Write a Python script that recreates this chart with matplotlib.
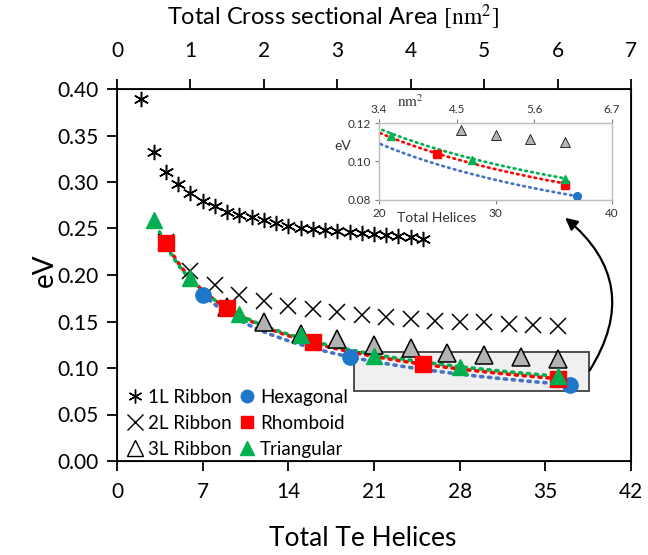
import numpy as np
import matplotlib
matplotlib.use("Agg")
import matplotlib.pyplot as plt
from matplotlib.lines import Line2D
from matplotlib.patches import Rectangle

plt.rcParams['font.family'] = ['Lato', 'DejaVu Sans']
plt.rcParams['mathtext.fontset'] = 'stix'

# ---------------- data ----------------
ribbon1_x = list(range(2, 26))
ribbon1_y = [0.389, 0.332, 0.311, 0.298, 0.288, 0.280, 0.274, 0.268, 0.265, 0.262,
             0.259, 0.256, 0.253, 0.251, 0.249, 0.248, 0.247, 0.246, 0.245, 0.244,
             0.243, 0.242, 0.241, 0.239]

ribbon2_x = list(range(4, 38, 2))
ribbon2_y = [0.235, 0.204, 0.189, 0.179, 0.172, 0.167, 0.163, 0.160, 0.157, 0.155,
             0.153, 0.151, 0.150, 0.149, 0.147, 0.146, 0.145]

ribbon3_x = [9, 12, 15, 18, 21, 24, 27, 30, 33, 36]
ribbon3_y = [0.166, 0.149, 0.137, 0.131, 0.125, 0.122, 0.1165, 0.114, 0.1115, 0.110]

hex_x = [7, 19, 37]
hex_y = [0.179, 0.112, 0.082]

rhomb_x = [4, 9, 16, 25, 36]
rhomb_y = [0.234, 0.165, 0.128, 0.104, 0.088]

tri_x = [3, 6, 10, 15, 21, 28, 36]
tri_y = [0.259, 0.197, 0.158, 0.135, 0.113, 0.101, 0.091]

bottom_ticks = [0, 7, 14, 21, 28, 35, 42]
left_ticks = [0.00, 0.05, 0.10, 0.15, 0.20, 0.25, 0.30, 0.35, 0.40]
top_ticks = [0, 1, 2, 3, 4, 5, 6, 7]
inset_x_ticks = [20, 30, 40]
inset_y_ticks = [0.08, 0.10, 0.12]
inset_top_ticks = [3.4, 4.5, 5.6, 6.7]

# colours
c_hex = '#1f77c9'
c_hex_line = '#4472c4'
c_rho = '#ff0000'
c_tri = '#00b050'


def power_fit(x, y):
    x = np.asarray(x, float)
    y = np.asarray(y, float)
    b, a = np.polyfit(np.log(x), np.log(y), 1)
    xs = np.linspace(x.min(), x.max(), 200)
    return xs, np.exp(a) * xs ** b


def window(x, y, lim):
    x = np.asarray(x, float)
    y = np.asarray(y, float)
    if lim is None:
        return x, y
    (x0, x1), (y0, y1) = lim
    m = (x >= x0) & (x <= x1) & (y >= y0 - 0.002) & (y <= y1)
    return x[m], y[m]


W, H = 648, 555
fig = plt.figure(figsize=(W / 100, H / 100), dpi=100)
L, R, T, B = 117, 631, 89, 461
ax = fig.add_axes([L / W, (H - B) / H, (R - L) / W, (B - T) / H])

fits = [(hex_x, hex_y, c_hex_line), (rhomb_x, rhomb_y, c_rho), (tri_x, tri_y, c_tri)]


def draw_all(a, scale=1.0, big=True, lim=None):
    ms = scale
    for fx, fy, col in fits:
        xs, ys = power_fit(fx, fy)
        a.plot(xs, ys, ls=(0, (0.6, 1.6)), color=col, lw=2.6 * (0.75 if not big else 1),
               dash_capstyle='round', zorder=3)
    if big:
        a.plot(ribbon1_x, ribbon1_y, ls='none', marker=(6, 2, 0), ms=11, mec='black',
               mew=1.1, zorder=4)
        a.plot(ribbon2_x, ribbon2_y, ls='none', marker='x', ms=12, mec='black',
               mew=1.1, zorder=4)
    a.plot(*window(ribbon3_x, ribbon3_y, lim), ls='none', marker='^', ms=13 * ms,
           mfc='#b3b3b3', mec='black', mew=1.1 * ms, zorder=5)
    a.plot(*window(hex_x, hex_y, lim), ls='none', marker='o', ms=11 * ms, mfc=c_hex,
           mec=c_hex, zorder=6)
    a.plot(*window(rhomb_x, rhomb_y, lim), ls='none', marker='s', ms=11 * ms, mfc=c_rho,
           mec=c_rho, zorder=6)
    a.plot(*window(tri_x, tri_y, lim), ls='none', marker='^', ms=12 * ms, mfc=c_tri,
           mec=c_tri, zorder=7)


draw_all(ax)

ax.set_xlim(0, 42)
ax.set_ylim(0, 0.40)
ax.set_xticks(bottom_ticks)
ax.set_yticks(left_ticks)
ax.set_yticklabels([f"{v:.2f}" for v in left_ticks])
ax.tick_params(axis='both', direction='out', length=7, width=1.3, labelsize=15, pad=6)
ax.tick_params(axis='x', pad=8)
for s in ax.spines.values():
    s.set_linewidth(1.3)
ax.set_xlabel('Total Te Helices', fontsize=19)
ax.xaxis.set_label_coords((363 - L) / (R - L), -(538 - B) / (B - T), transform=ax.transAxes)
ax.xaxis.label.set_va('center')
ax.set_ylabel('eV', fontsize=20)
ax.yaxis.set_label_coords((45 - L) / (R - L), (B - 270) / (B - T), transform=ax.transAxes)
ax.yaxis.label.set_va('center')

ax2 = ax.twiny()
ax2.set_xlim(0, 7)
ax2.set_xticks(top_ticks)
ax2.tick_params(axis='x', direction='out', length=7, width=1.3, labelsize=15, pad=13)
fig.text(333 / W, 1 - 17 / H, r'Total Cross sectional Area $[\mathrm{nm}^2]$',
         fontsize=17, ha='center', va='center')

# highlight box
ax.add_patch(Rectangle((19.4, 0.0755), 19.2, 0.042, facecolor='#f0f0f0',
                       edgecolor='#404040', lw=1.3, zorder=1))

# legend
handles = [
    Line2D([], [], ls='none', marker=(6, 2, 0), ms=10, mec='black', mew=1.0),
    Line2D([], [], ls='none', marker='x', ms=11, mec='black', mew=1.0),
    Line2D([], [], ls='none', marker='^', ms=11, mfc='white', mec='black', mew=1.0),
    Line2D([], [], ls='none', marker='o', ms=9, mfc=c_hex, mec=c_hex),
    Line2D([], [], ls='none', marker='s', ms=9, mfc=c_rho, mec=c_rho),
    Line2D([], [], ls='none', marker='^', ms=10, mfc=c_tri, mec=c_tri),
]
labels = ['1L Ribbon', '2L Ribbon', '3L Ribbon', 'Hexagonal', 'Rhomboid', 'Triangular']
ax.legend(handles, labels, ncol=2, loc='lower left', frameon=False, fontsize=13.5,
          handletextpad=0.2, columnspacing=0.3, handlelength=1.0, labelspacing=0.47,
          borderaxespad=0.0, bbox_to_anchor=(0.002, -0.011))

# inset
IL, IR, IT, IB = 379, 612, 123, 200
axi = fig.add_axes([IL / W, (H - IB) / H, (IR - IL) / W, (IB - IT) / H])
ilim = ((20, 40), (0.08, 0.12))
draw_all(axi, scale=0.5, big=False, lim=ilim)
axi.set_xlim(*ilim[0])
axi.set_ylim(*ilim[1])
axi.set_xticks(inset_x_ticks)
axi.set_yticks(inset_y_ticks)
axi.set_yticklabels([f"{v:.2f}" for v in inset_y_ticks])
axi.tick_params(axis='both', direction='out', length=3, width=0.8, colors='#808080',
                labelcolor='#333333', labelsize=8.5, pad=3)
for s in axi.spines.values():
    s.set_color('#bfbfbf')
    s.set_linewidth(1.0)
axi.set_facecolor('white')
axi3 = axi.twiny()
axi3.set_xlim(3.4, 6.7)
axi3.set_xticks(inset_top_ticks)
axi3.set_xticklabels([f"{v:.1f}" for v in inset_top_ticks])
axi3.tick_params(axis='x', direction='out', length=3, width=0.8, colors='#808080',
                 labelcolor='#333333', labelsize=8.5, pad=3)
for s in axi3.spines.values():
    s.set_color('#bfbfbf')
fig.text(410 / W, 1 - 102 / H, r'$\mathrm{nm}^2$', fontsize=11, ha='center', va='center',
         color='#333333')
fig.text(437 / W, 1 - 218 / H, 'Total Helices', fontsize=10, ha='center', va='center',
         color='#333333')
fig.text(343 / W, 1 - 146 / H, 'eV', fontsize=10, ha='center', va='center',
         color='#333333')

# curved arrow
ax.annotate('', xy=(563, H - 216), xycoords='figure pixels',
            xytext=(588, H - 373), textcoords='figure pixels',
            arrowprops=dict(arrowstyle='-|>', color='black', lw=1.6,
                            mutation_scale=18,
                            connectionstyle='arc3,rad=0.45'))

fig.savefig('out.png', dpi=100)
